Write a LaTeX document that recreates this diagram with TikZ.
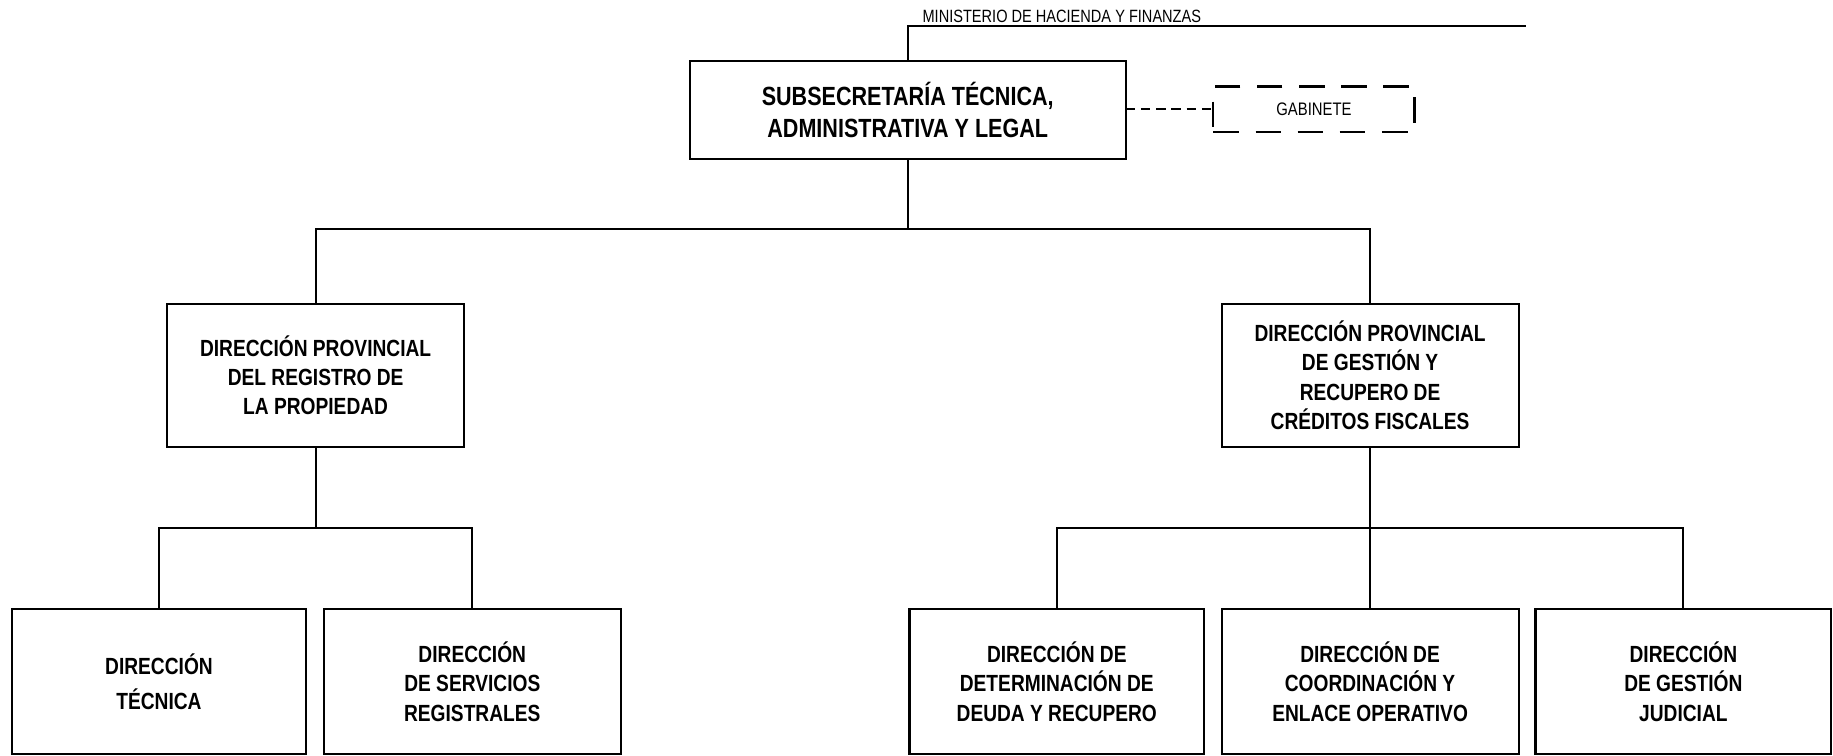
\documentclass[tikz,border=0pt]{standalone}
\usepackage{fontspec}
\setmainfont{Liberation Sans}[FakeStretch=0.82]
\begin{document}
\begin{tikzpicture}[x=1pt,y=-1pt,
  box/.style={draw=black,line width=1.8pt,rectangle,align=center,font=\bfseries\fontsize{20}{25}\selectfont,inner sep=0pt,outer sep=0pt},
  conn/.style={line width=1.8pt},
  dconn/.style={line width=1.8pt,dash pattern=on 8pt off 5pt},
  dbox/.style={draw=black,line width=1.8pt,dash pattern=on 22pt off 14pt,rectangle,inner sep=0pt,outer sep=0pt,font=\fontsize{15.5}{17}\selectfont}]
\fill[white] (0,0) rectangle (1568,646);
\useasboundingbox (0,0) rectangle (1568,646);
\node[box,minimum width=373pt,minimum height=84pt,font=\bfseries\fontsize{22.5}{28}\selectfont] (top) at (776.5,94) {SUBSECRETARÍA TÉCNICA,\\ADMINISTRATIVA Y LEGAL};
\node[dbox,minimum width=172pt,minimum height=39pt] (gab) at (1124,93.5) {GABINETE};
\node[box,minimum width=254pt,minimum height=122pt] (lm) at (270,321) {DIRECCIÓN PROVINCIAL\\DEL REGISTRO DE\\LA PROPIEDAD};
\node[box,minimum width=254pt,minimum height=122pt] (rm) at (1172,321) {DIRECCIÓN PROVINCIAL\\DE GESTIÓN Y\\RECUPERO DE\\CRÉDITOS FISCALES};
\node[box,minimum width=252pt,minimum height=124pt,font=\bfseries\fontsize{20}{30}\selectfont] (b1) at (136,583) {DIRECCIÓN\\TÉCNICA};
\node[box,minimum width=254pt,minimum height=124pt] (b2) at (404,583) {DIRECCIÓN\\DE SERVICIOS\\REGISTRALES};
\node[box,minimum width=252pt,minimum height=124pt] (b3) at (904,583) {DIRECCIÓN DE\\DETERMINACIÓN DE\\DEUDA Y RECUPERO};
\node[box,minimum width=254pt,minimum height=124pt] (b4) at (1172,583) {DIRECCIÓN DE\\COORDINACIÓN Y\\ENLACE OPERATIVO};
\node[box,minimum width=253pt,minimum height=124pt] (b5) at (1440,583) {DIRECCIÓN\\DE GESTIÓN\\JUDICIAL};
% ministry line
\coordinate (m0) at (776.5,22);
\coordinate (m1) at (1305,22);
\node[anchor=south west,inner sep=0pt,font=\fontsize{15.2}{17}\selectfont] (min) at (789,19.5) {MINISTERIO DE HACIENDA Y FINANZAS};
\draw[conn] (top.north) -- (m0) -- (m1);
% gabinete
\draw[dconn] (top.east |- gab.west) -- (gab.west);
% tree
\draw[conn] (top.south) -- ++(0,60) coordinate (j1);
\draw[conn] (lm.north) |- (j1) -| (rm.north);
\draw[conn] (lm.south) -- ++(0,70) coordinate (j2);
\draw[conn] (b1.north) |- (j2) -| (b2.north);
\draw[conn] (rm.south) -- ++(0,70) coordinate (j3);
\draw[conn] (b3.north) |- (j3) -| (b5.north);
\draw[conn] (b4.north) -- (j3);
\end{tikzpicture}
\end{document}
